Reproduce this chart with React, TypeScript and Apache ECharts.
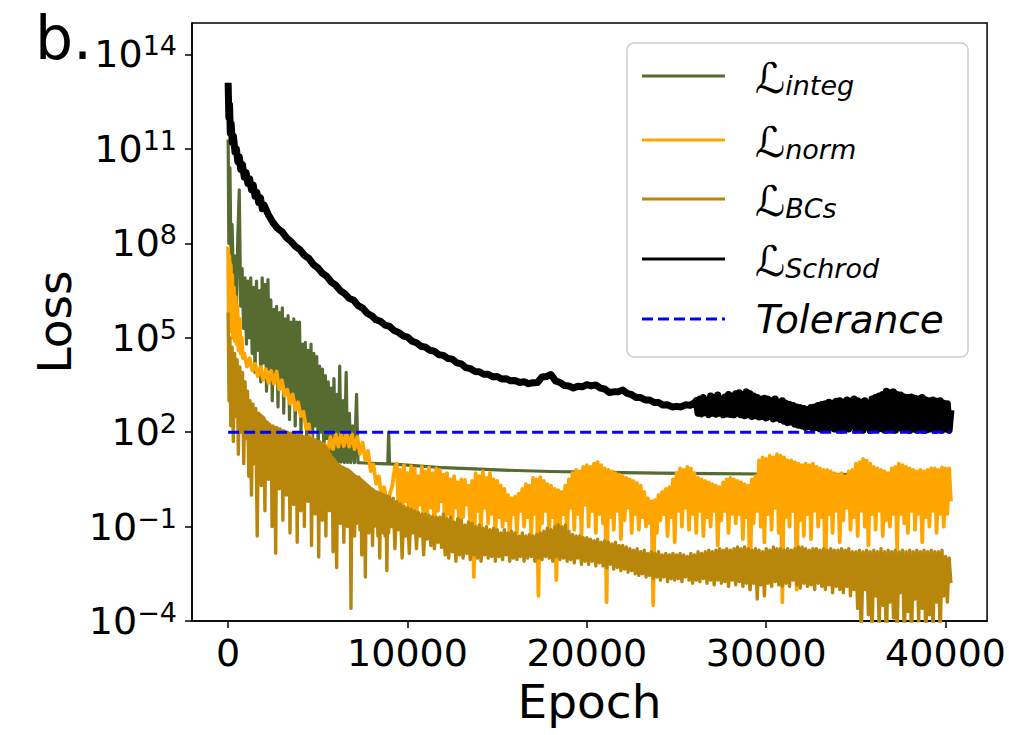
import React, { useEffect, useRef } from "react";
import * as echarts from "echarts";

// ---- axis ticks ----
const epochTicks = [0, 10000, 20000, 30000, 40000];
const lossExpTicks = [-4, -1, 2, 5, 8, 11, 14];

// ---- series values: log10(loss) ----
// Irregular parts are [epoch, log10(loss)] pairs; dense noisy parts are
// values sampled every GRID_STEP epochs starting at the given epoch.
const GRID_STEP = 100;

const integLog10: number[][] = [
  [0, 11.3], [40, 8.0], [100, 10.4], [160, 7.5], [220, 8.6], [300, 6.5], [380, 7.6], [460, 5.8], [540, 8.2], [620, 9.7],
  [700, 6.0], [780, 7.2], [860, 5.3], [940, 6.9], [1020, 4.8], [1100, 6.8], [1180, 5.0], [1260, 6.9], [1340, 4.5], [1420, 6.6],
  [1500, 3.9], [1580, 6.8], [1660, 4.6], [1740, 6.5], [1820, 3.6], [1900, 6.9], [1980, 4.2], [2060, 6.7], [2140, 3.3], [2220, 6.85],
  [2300, 4.0], [2380, 6.2], [2460, 3.0], [2540, 5.9], [2620, 3.7], [2700, 6.0], [2780, 2.8], [2860, 5.8], [2940, 3.5], [3020, 5.95],
  [3100, 2.6], [3180, 5.6], [3260, 3.2], [3340, 5.7], [3420, 2.4], [3500, 5.5], [3580, 3.0], [3660, 5.6], [3740, 2.2], [3820, 5.5],
  [3900, 2.8], [3980, 5.5], [4060, 2.0], [4140, 4.8], [4220, 2.5], [4300, 4.85], [4380, 1.8], [4460, 4.6], [4540, 2.3], [4620, 4.8],
  [4700, 1.6], [4780, 4.5], [4860, 2.2], [4940, 4.4], [5020, 1.5], [5100, 4.1], [5180, 2.0], [5260, 4.0], [5340, 1.4], [5420, 3.8],
  [5500, 1.8], [5580, 3.6], [5660, 1.3], [5740, 3.4], [5820, 1.1], [5900, 3.7], [5980, 1.05], [6060, 3.2], [6140, 1.05], [6220, 4.1],
  [6300, 1.05], [6400, 3.0], [6480, 1.04], [6580, 3.9], [6660, 1.04], [6760, 2.6], [6840, 1.03], [6940, 2.2], [7040, 1.03], [7160, 3.2],
  [7240, 1.03], [7600, 1.02], [8000, 1.01], [8900, 0.99], [8950, 2.0], [9000, 0.99], [10000, 0.95], [12000, 0.87], [15000, 0.8],
  [18000, 0.75], [21000, 0.72], [24000, 0.7], [27000, 0.68], [30000, 0.67], [33000, 0.66], [36000, 0.65], [40300, 0.64],
];

const normEarlyLog10: number[][] = [
  [0, 7.9], [30, 5.6], [70, 7.6], [110, 5.3], [150, 7.3], [190, 5.2], [230, 7.0], [270, 5.0], [320, 6.6], [370, 4.9],
  [420, 6.3], [470, 4.8], [520, 6.0], [580, 4.6], [640, 5.6], [700, 4.5], [760, 5.0], [820, 4.35],
  [900, 4.5], [1050, 4.08], [1200, 4.35], [1350, 3.96], [1500, 4.17], [1650, 3.78], [1800, 4.07], [1950, 3.66], [2100, 4.0], [2250, 3.56],
  [2400, 3.95], [2550, 3.54], [2700, 3.93], [2850, 3.36], [3000, 3.65], [3150, 3.16], [3300, 3.35], [3450, 2.91], [3600, 3.2], [3750, 2.71],
  [3900, 2.95], [4050, 2.51], [4200, 2.65], [4350, 2.11], [4500, 2.25], [4650, 1.66], [4800, 1.75], [4950, 1.24], [5100, 1.55], [5250, 1.16],
  [5400, 1.6], [5550, 1.31], [5700, 1.85], [5850, 1.46], [6000, 1.93], [6150, 1.54], [6300, 1.95], [6450, 1.56], [6600, 1.97], [6750, 1.54],
  [6900, 1.93], [7050, 1.46], [7200, 1.85], [7350, 1.31], [7500, 1.67], [7650, 1.11], [7800, 1.4], [7950, 0.76], [8100, 0.97], [8250, 0.36],
  [8400, 0.6], [8550, -0.04], [8700, 0.25], [8850, -0.34], [9000, 0.0], [9150, 0.3], [9300, 0.9],
];
const normLateStart = 9400;
const normLateLog10: number[] = [
  1.0, -0.4, 0.8, -0.9, 0.95, -0.2, 0.7, -1.1, 0.92, -0.5,
  0.85, -0.8, 0.6, -0.3, 0.9, -1.2, 0.75, -0.6, 0.88, -0.4,
  0.7, -1.0, 0.85, -0.5, 0.8, -0.2, 0.65, -1.3, 0.7, -0.6,
  0.5, -0.9, 0.6, -0.4, 0.4, -1.2, 0.5, -0.7, 0.48, -0.3,
  0.3, -1.0, 0.45, -2.6, 0.7, -0.5, 0.6, -1.1, 0.75, -0.4,
  0.55, -0.9, 0.7, -0.6, 0.5, -1.3, 0.45, -0.7, 0.3, -1.0,
  0.2, -0.8, 0.0, -1.4, -0.1, -0.6, -0.05, -1.2, 0.05, -0.5,
  0.2, -1.0, 0.35, -0.7, 0.3, -1.3, 0.55, -0.6, 0.5, -3.2,
  0.57, -0.9, 0.45, -0.5, 0.35, -1.2, 0.3, -0.7, 0.2, -2.7,
  0.16, -1.0, 0.1, -0.6, 0.3, -1.3, 0.5, -0.4, 0.7, -1.1,
  0.8, -0.6, 0.75, -1.3, 0.9, -0.3, 0.95, -1.0, 0.9, -0.5,
  1.0, -1.2, 1.05, -0.6, 0.95, -0.9, 0.85, -3.4, 0.8, -0.7,
  0.75, -1.1, 0.7, -0.5, 0.65, -1.4, 0.6, -0.8, 0.55, -0.4,
  0.5, -1.2, 0.45, -0.6, 0.38, -1.1, 0.3, -0.7, 0.1, -1.0,
  -0.1, -0.9, -0.2, -3.5, -0.15, -1.2, 0.0, -0.8, 0.1, -0.6,
  0.2, -1.3, 0.25, -0.7, 0.5, -1.5, 0.7, -0.5, 0.85, -1.0,
  0.8, -0.4, 0.9, -1.1, 0.85, -0.6, 0.7, -1.2, 0.55, -0.5,
  0.5, -1.3, 0.45, -0.7, 0.4, -1.0, 0.35, -0.5, 0.3, -1.6,
  0.25, -0.8, 0.4, -0.5, 0.5, -1.2, 0.55, -0.6, 0.5, -0.9,
  0.45, -0.6, 0.4, -1.4, 0.35, -0.7, 0.3, -3.0, 0.5, -0.9,
  0.6, -0.5, 1.1, -1.0, 1.2, -1.5, 1.15, -0.6, 1.25, -1.1,
  1.2, -0.4, 1.3, -1.2, 1.25, -3.4, 1.2, -0.7, 1.1, -1.0,
  1.1, -0.5, 1.05, -3.0, 1.0, -0.8, 0.95, -1.3, 1.0, -0.6,
  0.95, -1.4, 1.0, -0.5, 0.9, -1.0, 0.85, -0.7, 0.8, -2.8,
  0.8, -0.6, 0.75, -1.2, 0.7, -0.5, 0.65, -1.5, 0.7, -0.8,
  0.6, -0.4, 0.75, -1.1, 0.8, -0.7, 1.0, -1.3, 1.05, -0.5,
  1.15, -1.0, 1.1, -1.6, 1.0, -0.6, 0.9, -1.1, 0.85, -0.5,
  0.8, -1.3, 0.75, -0.8, 0.7, -1.0, 0.85, -0.6, 0.9, -1.7,
  1.0, -0.6, 0.95, -0.9, 0.9, -1.2, 0.85, -0.5, 0.8, -1.1,
  0.75, -0.6, 0.8, -1.5, 0.75, -0.7, 0.8, -1.0, 0.85, -0.5,
  0.85, -1.2, 0.8, -0.6, 0.88, -1.0, 0.85, -0.6, 0.85, -0.2,
];

const bcsEarlyLog10: number[][] = [
  [0, 5.8], [50, 3.0], [100, 5.0], [150, 2.2], [220, 4.7], [290, 1.7], [360, 4.5], [430, 2.5], [500, 4.3], [570, 1.3],
  [650, 4.07], [720, 2.0], [800, 3.9], [870, 1.0], [940, 3.6], [1010, 1.8], [1080, 3.3], [1150, 0.6], [1220, 3.0], [1300, 0.0],
  [1380, 2.9], [1460, 1.0], [1540, 2.75], [1620, -1.3], [1700, 2.6], [1750, 0.8], [1800, 2.55], [1850, 0.3], [1900, 2.5], [1950, 1.1],
  [2000, 2.45], [2050, -0.5], [2100, 2.35], [2150, 0.9], [2200, 2.3], [2250, 0.5], [2300, 2.25], [2350, 1.2], [2400, 2.2], [2450, -1.0],
  [2500, 2.2], [2550, 0.7], [2600, 2.15], [2650, -1.85], [2700, 2.15], [2750, 0.8], [2800, 2.1], [2850, 0.2], [2900, 2.1], [2950, 1.0],
  [3000, 2.05], [3050, -0.8], [3100, 2.05], [3150, 0.6], [3200, 2.0], [3250, 0.0], [3300, 2.0], [3350, 0.9], [3400, 1.97], [3450, -1.2],
  [3500, 1.97], [3550, 0.5], [3600, 1.95], [3650, -0.3], [3700, 1.95], [3750, 0.7], [3800, 1.9], [3850, -1.5], [3900, 1.9], [3950, 0.4],
  [4000, 1.9], [4050, -0.5], [4100, 1.9], [4150, 0.6], [4200, 1.85], [4250, -1.0], [4300, 1.85], [4350, 0.3], [4400, 1.85], [4450, -0.2],
  [4500, 1.85], [4550, 0.5], [4600, 1.8], [4650, -1.6], [4700, 1.8], [4750, 0.2], [4800, 1.75], [4850, -0.6], [4900, 1.75], [4950, 0.1],
  [5000, 1.7], [5050, -1.97], [5100, 1.7], [5150, 0.0], [5200, 1.65], [5250, -0.8], [5300, 1.65], [5350, -0.2], [5400, 1.55], [5450, -1.3],
  [5500, 1.5], [5550, -0.3], [5600, 1.4], [5650, -0.5], [5700, 1.3], [5750, -0.4], [5800, 1.2], [5850, -1.8], [5900, 1.15], [5950, -0.5],
  [6000, 1.05], [6050, -2.3], [6100, 1.0], [6150, -0.6], [6200, 0.95], [6250, -0.9], [6300, 0.9], [6350, -0.7], [6400, 0.88], [6450, -1.5],
  [6500, 0.85], [6550, -0.6], [6600, 0.82], [6650, -1.0], [6700, 0.8], [6750, -0.9], [6800, 0.75], [6850, -3.6], [6900, 0.7], [6950, -0.8],
  [7000, 0.65], [7050, -1.3], [7100, 0.6], [7150, -0.9], [7200, 0.58], [7250, -0.8], [7300, 0.57], [7350, -1.1], [7400, 0.5], [7450, -1.9],
  [7500, 0.45], [7550, -1.0], [7600, 0.4], [7650, -2.6], [7700, 0.35], [7750, -1.0], [7800, 0.3], [7850, -1.2], [7900, 0.25], [7950, -1.1],
  [8000, 0.2], [8050, -1.6], [8100, 0.16], [8150, -1.0], [8200, 0.12], [8250, -0.9], [8300, 0.1], [8350, -1.3], [8400, 0.07], [8450, -2.0],
  [8500, 0.05], [8550, -1.1], [8600, 0.02], [8650, -1.2], [8700, 0.0], [8750, -1.3], [8800, -0.02], [8850, -2.4], [8900, -0.05], [8950, -1.2],
  [9000, -0.06], [9100, -1.0], [9200, -0.1], [9300, -1.7], [9400, -0.2], [9500, -1.1], [9600, -0.28], [9700, -2.0], [9800, -0.35], [9900, -1.3],
  [10000, -0.4], [10100, -1.85], [10200, -0.45], [10300, -1.2], [10400, -0.5], [10500, -1.7], [10600, -0.55], [10700, -1.3], [10800, -0.6], [10900, -1.9],
  [11000, -0.6], [11100, -1.4], [11200, -0.65], [11300, -1.6], [11400, -0.68], [11500, -1.7], [11600, -0.7], [11700, -1.5], [11800, -0.7], [11900, -1.66],
];
const bcsLateStart = 12000;
const bcsLateLog10: number[] = [
  -0.6, -1.9, -0.75, -2.0, -0.7, -1.8, -0.85, -2.1, -0.75, -1.9,
  -0.8, -2.0, -0.95, -1.85, -0.85, -2.05, -0.9, -1.9, -1.0, -2.0,
  -0.95, -2.1, -1.05, -1.9, -1.0, -2.0, -1.1, -1.95, -1.05, -2.1,
  -1.1, -1.95, -1.2, -2.05, -1.1, -1.9, -1.2, -2.1, -1.15, -2.0,
  -1.2, -2.05, -1.3, -1.95, -1.2, -2.1, -1.3, -2.0, -1.25, -1.95,
  -1.3, -2.1, -1.25, -2.0, -1.2, -2.05, -1.15, -1.95, -1.05, -2.0,
  -1.1, -2.1, -1.0, -1.95, -0.95, -2.05, -1.0, -2.0, -0.95, -2.1,
  -1.15, -2.05, -1.25, -2.15, -1.3, -2.0, -1.3, -2.2, -1.35, -2.1,
  -1.35, -2.2, -1.4, -2.1, -1.45, -2.25, -1.4, -2.15, -1.5, -2.25,
  -1.45, -2.3, -1.5, -2.2, -1.55, -2.35, -1.5, -2.3, -1.6, -2.4,
  -1.6, -2.35, -1.65, -2.45, -1.7, -2.4, -1.75, -2.5, -1.7, -2.55,
  -1.8, -2.5, -1.75, -2.6, -1.85, -2.55, -1.8, -2.65, -1.85, -2.6,
  -1.8, -2.7, -1.9, -2.6, -1.85, -2.75, -1.9, -2.65, -1.85, -2.7,
  -1.9, -2.65, -1.85, -2.75, -1.9, -2.6, -1.95, -2.7, -1.85, -2.8,
  -1.9, -2.7, -1.8, -2.75, -1.85, -2.65, -1.8, -2.8, -1.75, -2.7,
  -1.8, -2.85, -1.75, -2.7, -1.7, -2.8, -1.75, -2.75, -1.7, -2.9,
  -1.75, -2.7, -1.7, -2.85, -1.65, -2.75, -1.7, -2.9, -1.65, -2.8,
  -1.7, -3.0, -1.75, -2.8, -1.7, -3.3, -1.75, -2.85, -1.8, -3.2,
  -1.7, -2.8, -1.75, -2.9, -1.65, -2.75, -1.7, -2.85, -1.7, -2.9,
  -1.75, -2.8, -1.7, -2.9, -1.75, -2.7, -1.7, -2.85, -1.65, -2.95,
  -1.65, -2.8, -1.7, -2.9, -1.75, -2.85, -1.7, -3.0, -1.7, -2.8,
  -1.75, -2.9, -1.7, -3.0, -1.75, -2.85, -1.7, -3.1, -1.75, -2.9,
  -1.75, -3.0, -1.7, -3.1, -1.75, -2.9, -1.7, -3.2, -1.8, -3.0,
  -1.8, -3.6, -1.75, -4.6, -1.8, -3.0, -1.75, -3.8, -1.8, -4.5,
  -1.75, -3.2, -1.8, -4.2, -1.7, -3.5, -1.8, -4.8, -1.75, -3.4,
  -1.8, -3.9, -1.75, -4.4, -1.8, -3.1, -1.75, -4.6, -1.8, -3.7,
  -1.75, -4.7, -1.8, -3.3, -1.75, -4.0, -1.8, -3.6, -1.75, -4.6,
  -1.8, -3.8, -1.75, -4.3, -1.8, -3.4, -1.8, -4.5, -1.75, -3.2,
  -1.95, -3.4, -2.0, -2.8,
];

const schrodLog10: number[][] = [
  [0, 13.1], [40, 12.0], [80, 12.4], [120, 11.5], [170, 11.8], [230, 11.2], [300, 11.4], [380, 10.9], [460, 11.0], [540, 10.6],
  [620, 10.75], [700, 10.35], [800, 10.5], [900, 10.1], [1000, 10.25], [1100, 9.9], [1200, 10.05], [1300, 9.7], [1400, 9.85], [1500, 9.5],
  [1600, 9.62], [1700, 9.3], [1800, 9.45], [1900, 9.1],
  [2000, 9.22], [2250, 8.9], [2500, 8.66], [2750, 8.48], [3000, 8.37], [3250, 8.18], [3500, 8.06], [3750, 7.9], [4000, 7.8], [4250, 7.62],
  [4500, 7.52], [4750, 7.33], [5000, 7.22], [5250, 7.05], [5500, 6.95], [5750, 6.77], [6000, 6.67], [6250, 6.5], [6500, 6.4], [6750, 6.25],
  [7000, 6.19], [7250, 6.02], [7500, 5.94], [7750, 5.78], [8000, 5.7], [8250, 5.57], [8500, 5.52], [8750, 5.4], [9000, 5.36], [9250, 5.23],
  [9500, 5.17], [9750, 5.06], [10000, 5.02], [10250, 4.89], [10500, 4.84], [10750, 4.73], [11000, 4.7], [11250, 4.6], [11500, 4.57], [11750, 4.46],
  [12000, 4.44], [12250, 4.34], [12500, 4.32], [12750, 4.2], [13000, 4.17], [13250, 4.05], [13500, 4.02], [13750, 3.93], [14000, 3.92], [14250, 3.84],
  [14500, 3.84], [14750, 3.76], [15000, 3.77], [15250, 3.69], [15500, 3.7], [15750, 3.63], [16000, 3.64], [16250, 3.58], [16500, 3.6], [16750, 3.54],
  [17000, 3.57], [17250, 3.58], [17500, 3.75], [17750, 3.77], [18000, 3.83], [18250, 3.63], [18500, 3.58], [18750, 3.48], [19000, 3.47], [19250, 3.4],
  [19500, 3.46], [19750, 3.44], [20000, 3.51], [20250, 3.47], [20500, 3.5], [20750, 3.4], [21000, 3.37], [21250, 3.26], [21500, 3.28], [21750, 3.28],
  [22000, 3.34], [22250, 3.23], [22500, 3.19], [22750, 3.1], [23000, 3.1], [23250, 3.02], [23500, 3.02], [23750, 2.94], [24000, 2.94], [24250, 2.86],
  [24500, 2.87], [24750, 2.8], [25000, 2.82], [25250, 2.8], [25500, 2.87], [25750, 2.85], [26000, 2.93],
];
const schrodLateStart = 26100;
const schrodLateLog10: number[] = [
  3.0, 2.6, 3.05, 2.58, 3.1, 2.62, 2.95, 2.55, 3.15, 2.6,
  3.1, 2.57, 3.18, 2.6, 3.05, 2.55, 3.12, 2.58, 3.2, 2.56,
  3.15, 2.55, 3.22, 2.6, 3.25, 2.55, 3.2, 2.52, 3.28, 2.55,
  3.22, 2.5, 3.15, 2.52, 3.1, 2.48, 3.05, 2.5, 3.08, 2.45,
  3.05, 2.5, 3.0, 2.42, 3.05, 2.45, 2.95, 2.4, 3.0, 2.35,
  2.92, 2.3, 2.88, 2.32, 2.85, 2.25, 2.8, 2.22, 2.78, 2.2,
  2.75, 2.15, 2.72, 2.18, 2.78, 2.12, 2.8, 2.15, 2.85, 2.1,
  2.88, 2.12, 2.9, 2.08, 2.95, 2.15, 2.92, 2.1, 2.98, 2.08,
  3.0, 2.06, 2.95, 2.12, 3.02, 2.1, 2.98, 2.2, 3.05, 2.07,
  3.0, 2.12, 2.95, 2.06, 3.0, 2.15, 2.92, 2.05, 3.05, 2.1,
  3.1, 2.08, 3.15, 2.12, 3.2, 2.06, 3.3, 2.1, 3.25, 2.12,
  3.28, 2.06, 3.2, 2.15, 3.18, 2.08, 3.12, 2.1, 3.1, 2.05,
  3.12, 2.1, 3.08, 2.06, 3.05, 2.12, 3.1, 2.05, 3.02, 2.08,
  3.0, 2.1, 3.02, 2.05, 2.98, 2.1, 3.0, 2.06, 2.92, 2.1,
  2.9, 2.06, 2.7,
];

const toleranceLog10: number[][] = [
  [0, 2],
  [40300, 2],
];

// ---- styling ----
const FONT = "DejaVu Sans";
const colors = {
  integ: "#556B2F",
  norm: "#FFA500",
  bcs: "#B8860B",
  schrod: "#000000",
  tol: "#0000FF",
};

const legendRows = [
  { sub: "integ", color: colors.integ, dashed: false },
  { sub: "norm", color: colors.norm, dashed: false },
  { sub: "BCs", color: colors.bcs, dashed: false },
  { sub: "Schrod", color: colors.schrod, dashed: false },
  { sub: "", color: colors.tol, dashed: true },
];

function onGrid(start: number, values: number[]): number[][] {
  return values.map((v, i) => [start + i * GRID_STEP, v]);
}

function expLabel(v: number): string {
  const e = Math.round(v);
  const s = e < 0 ? "\u2212" + Math.abs(e) : String(e);
  return `{b|10}{s|${s}}`;
}

export default function App() {
  const ref = useRef<HTMLDivElement>(null);

  useEffect(() => {
    if (!ref.current) return;
    const chart = echarts.init(ref.current, null, { renderer: "svg" });

    const lineSeries = (name: string, data: number[][], color: string, width: number) => ({
      name,
      type: "line",
      data,
      showSymbol: false,
      symbol: "none",
      lineStyle: { color, width, join: "round" },
      itemStyle: { color },
      clip: true,
      silent: true,
    });

    const normData = normEarlyLog10.concat(onGrid(normLateStart, normLateLog10));
    const bcsData = bcsEarlyLog10.concat(onGrid(bcsLateStart, bcsLateLog10));
    const schrodData = schrodLog10.concat(onGrid(schrodLateStart, schrodLateLog10));

    const rowYs = [76, 140, 199, 259, 319];
    const legendEls: any[] = [
      {
        type: "rect",
        shape: { x: 627, y: 43, width: 341, height: 314, r: 7 },
        style: { fill: "rgba(255,255,255,0.85)", stroke: "#cccccc", lineWidth: 1.5 },
        z: 100,
      },
    ];
    legendRows.forEach((r, i) => {
      const y = rowYs[i];
      legendEls.push({
        type: "line",
        shape: { x1: 642, y1: y, x2: 725, y2: y },
        style: { stroke: r.color, lineWidth: 3, lineDash: r.dashed ? [11, 5] : null },
        z: 101,
      });
      if (r.sub) {
        legendEls.push({
          type: "text",
          x: 755,
          y: y + 2,
          style: {
            text: `{L|\u2112}{sub|${r.sub}}`,
            verticalAlign: "middle",
            align: "left",
            fill: "#000",
            rich: {
              L: { fontSize: 42, fontFamily: FONT, fill: "#000", lineHeight: 42 },
              sub: {
                fontSize: 27,
                fontFamily: FONT,
                fontStyle: "italic",
                fill: "#000",
                lineHeight: 22,
                verticalAlign: "bottom",
              },
            },
          },
          z: 101,
        });
      } else {
        legendEls.push({
          type: "text",
          x: 756,
          y: y,
          style: {
            text: "Tolerance",
            fontSize: 39,
            fontFamily: FONT,
            fontStyle: "italic",
            fill: "#000",
            verticalAlign: "middle",
            align: "left",
          },
          z: 101,
        });
      }
    });

    const option: any = {
      animation: false,
      backgroundColor: "#ffffff",
      grid: {
        left: 192,
        top: 23,
        width: 796,
        height: 598,
        show: true,
        borderColor: "#000",
        borderWidth: 1.5,
        backgroundColor: "transparent",
        containLabel: false,
      },
      xAxis: {
        type: "value",
        min: -2015,
        max: 42315,
        name: "Epoch",
        nameLocation: "middle",
        nameGap: 57,
        nameTextStyle: { fontSize: 47, fontFamily: FONT, color: "#000" },
        axisLine: { show: true, onZero: false, lineStyle: { color: "#000", width: 1.5 } },
        axisTick: { show: true, length: 7, lineStyle: { color: "#000", width: 1.5 }, customValues: epochTicks },
        axisLabel: {
          show: true,
          customValues: epochTicks,
          fontSize: 38,
          fontFamily: FONT,
          color: "#000",
          margin: 13,
          formatter: (v: number) => String(v),
        },
        splitLine: { show: false },
      },
      yAxis: {
        type: "value",
        min: -4,
        max: 15,
        name: "Loss",
        nameLocation: "middle",
        nameGap: 110,
        nameRotate: 90,
        nameTextStyle: { fontSize: 47, fontFamily: FONT, color: "#000" },
        axisLine: { show: true, onZero: false, lineStyle: { color: "#000", width: 1.5 } },
        axisTick: { show: true, length: 7, lineStyle: { color: "#000", width: 1.5 }, customValues: lossExpTicks },
        axisLabel: {
          show: true,
          customValues: lossExpTicks,
          margin: 15,
          formatter: expLabel,
          rich: {
            b: { fontSize: 38, fontFamily: FONT, color: "#000", lineHeight: 44 },
            s: { fontSize: 27, fontFamily: FONT, color: "#000", lineHeight: 27, verticalAlign: "top" },
          },
        },
        splitLine: { show: false },
      },
      graphic: [
        {
          type: "text",
          x: 35,
          y: 38,
          style: {
            text: "b.",
            fontSize: 60,
            fontFamily: FONT,
            fill: "#000",
            verticalAlign: "middle",
            align: "left",
          },
        },
        ...legendEls,
      ],
      series: [
        lineSeries("L_integ", integLog10, colors.integ, 3.2),
        lineSeries("L_norm", normData, colors.norm, 3.8),
        lineSeries("L_BCs", bcsData, colors.bcs, 3.4),
        lineSeries("L_Schrod", schrodData, colors.schrod, 7),
        {
          ...lineSeries("Tolerance", toleranceLog10, colors.tol, 3),
          lineStyle: { color: colors.tol, width: 3, type: [11, 5] },
        },
      ],
    };

    chart.setOption(option);
    return () => chart.dispose();
  }, []);

  return (
    <div
      ref={ref}
      style={{ position: "absolute", left: 0, top: 0, width: 1009, height: 735, background: "#fff" }}
    />
  );
}
